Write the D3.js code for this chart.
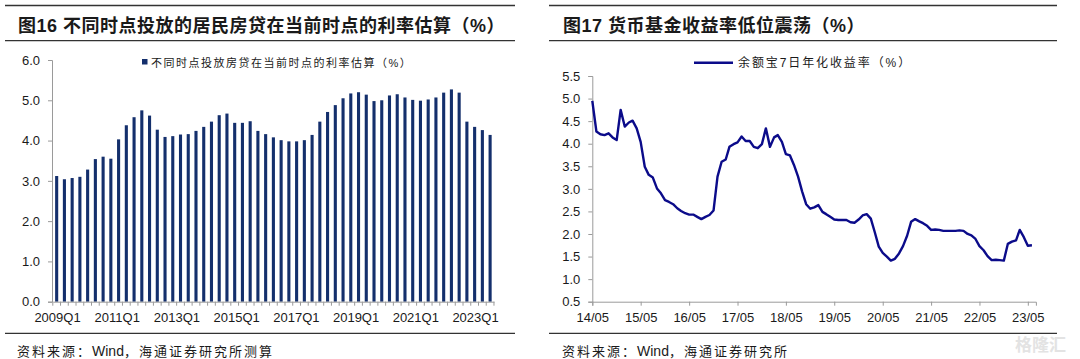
<!DOCTYPE html>
<html><head><meta charset="utf-8">
<script src="https://cdn.jsdelivr.net/npm/d3@7"></script>
<style>
body{margin:0;background:#fff;}
svg{display:block;}
</style></head>
<body>
<svg id="c" width="1080" height="359"></svg>
<script>
// ---------- DATA ----------
const leftTitle = "图16 不同时点投放的居民房贷在当前时点的利率估算（%）";
const rightTitle = "图17 货币基金收益率低位震荡（%）";
const barSeriesName = "不同时点投放房贷在当前时点的利率估算（%）";
const lineSeriesName = "余额宝7日年化收益率（%）";
const quarterYears = d3.range(2009, 2024);
const quarters = quarterYears.flatMap(y => [1,2,3,4].map(q => y + "Q" + q)).slice(0, 57);
const barValues = [3.12,3.04,3.07,3.10,3.28,3.54,3.60,3.55,
  4.03,4.38,4.58,4.75,4.62,4.27,4.09,4.11,
  4.15,4.16,4.24,4.34,4.47,4.63,4.67,4.44,
  4.44,4.48,4.24,4.16,4.08,4.01,3.98,3.98,
  4.01,4.14,4.47,4.71,4.88,5.05,5.17,5.20,
  5.14,4.98,5.00,5.12,5.15,5.07,5.01,4.99,
  5.02,5.07,5.19,5.27,5.19,4.47,4.34,4.26,
  4.14];
const barTickLabels = ["2009Q1","2011Q1","2013Q1","2015Q1","2017Q1","2019Q1","2021Q1","2023Q1"];
const leftYTicks = [0,1,2,3,4,5,6];

const lineStart = "2014-05";
const lineValues = [4.95,4.27,4.21,4.19,4.23,4.14,4.08,4.75,4.38,4.47,4.51,4.34,
  4.04,3.49,3.31,3.25,3.01,2.90,2.75,2.71,2.66,2.57,2.51,2.46,
  2.43,2.43,2.38,2.33,2.38,2.42,2.52,3.27,3.60,3.65,3.93,3.99,
  4.03,4.16,4.06,4.06,3.93,3.90,3.99,4.34,3.93,4.14,4.19,4.04,
  3.77,3.74,3.53,3.27,2.94,2.66,2.56,2.59,2.64,2.49,2.44,2.38,
  2.32,2.31,2.31,2.31,2.26,2.25,2.32,2.41,2.44,2.34,2.05,1.72,
  1.58,1.50,1.41,1.45,1.57,1.73,1.96,2.27,2.33,2.28,2.24,2.18,
  2.09,2.10,2.09,2.07,2.07,2.07,2.07,2.08,2.07,2.00,1.97,1.89,
  1.73,1.64,1.51,1.42,1.43,1.42,1.41,1.78,1.83,1.86,2.09,1.93,
  1.74,1.75];
const lineTickLabels = ["14/05","15/05","16/05","17/05","18/05","19/05","20/05","21/05","22/05","23/05"];
const rightYTicks = [0.5,1.0,1.5,2.0,2.5,3.0,3.5,4.0,4.5,5.0,5.5];
const sourceLeft = ["资料来源：","Wind","，海通证券研究所测算"];
const sourceRight = ["资料来源：","Wind","，海通证券研究所"];

// ---------- STYLE ----------
const FONT = "'Liberation Sans', Arial, 'Noto Sans CJK SC', sans-serif";
const BAR = "#142f6c";
const LINE = "#0b0b8a";
const AXIS = "#9a9a9a";
const TXT = "#1a1a1a";

const svg = d3.select("#c");
svg.append("rect").attr("width",1080).attr("height",359).attr("fill","#fff");

function frame(x0, x1, title, tx, src, sx) {
  const g = svg.append("g");
  [5.5, 40.7, 333.3].forEach(y => g.append("line").attr("x1",x0).attr("x2",x1)
    .attr("y1",y).attr("y2",y).attr("stroke","#333").attr("stroke-width",1.3));
  g.append("text").attr("x",tx).attr("y",31.5).attr("font-family",FONT)
    .attr("font-weight","bold").attr("font-size",18).attr("letter-spacing",0.5)
    .attr("fill",TXT).text(title);
  const t = g.append("text").attr("x",sx).attr("y",356).attr("font-family",FONT)
    .attr("font-size",13).attr("fill",TXT);
  t.append("tspan").attr("letter-spacing",2).text(src[0]);
  t.append("tspan").attr("font-size",14).text(src[1]);
  t.append("tspan").attr("letter-spacing",2).text(src[2]);
}
frame(5, 515, leftTitle, 18, sourceLeft, 17);
frame(549, 1057, rightTitle, 563, sourceRight, 562);

// ---------- LEFT BAR CHART ----------
const yL = d3.scaleLinear().domain([0,6]).range([301.7,60]);
const xL = d3.scaleBand().domain(quarters).range([52.8, 52.8 + 57*7.74]).paddingInner(0.6).paddingOuter(0.3);
const xLab = d3.scalePoint().domain(barTickLabels).range([57, 475]);

const gl = svg.append("g");
gl.selectAll("rect.bar").data(barValues).join("rect").attr("class","bar")
  .attr("x",(d,i)=>xL(quarters[i]))
  .attr("width",xL.bandwidth())
  .attr("y",d=>yL(d)).attr("height",d=>yL(0)-yL(d)).attr("fill",BAR);

// y axis
gl.append("g").attr("transform","translate(52,0)")
  .call(d3.axisLeft(yL).tickValues(leftYTicks).tickFormat(d3.format(".1f")).tickSize(4).tickPadding(8));
// x axis (category ticks)
const xAxL = gl.append("g").attr("transform",`translate(0,${yL(0)})`)
  .call(d3.axisBottom(xL).tickSize(0).tickFormat(""));
xAxL.selectAll(".tick").remove();
xAxL.selectAll(".sep").data(d3.range(58)).join("line").attr("class","sep")
  .attr("x1",i=>52.8 + i*xL.step()).attr("x2",i=>52.8 + i*xL.step())
  .attr("y1",0).attr("y2",4).attr("stroke",AXIS);
const labL = gl.append("g").attr("transform",`translate(0,${yL(0)})`)
  .call(d3.axisBottom(xLab).tickSize(0).tickPadding(11));
labL.select(".domain").remove();

// legend
gl.append("rect").attr("x",142).attr("y",59).attr("width",5.5).attr("height",5.5).attr("fill",BAR);
gl.append("text").attr("x",151).attr("y",66.5).attr("font-family",FONT).attr("font-size",11)
  .attr("letter-spacing",1.5).attr("fill",TXT).text(barSeriesName);

// ---------- RIGHT LINE CHART ----------
const parseM = d3.timeParse("%Y-%m");
const t0 = parseM(lineStart);
const lineDates = d3.timeMonth.range(t0, d3.timeMonth.offset(t0, lineValues.length));
const tickDates = lineTickLabels.map(s => d3.timeParse("%y/%m")(s));
const xR = d3.scaleTime().domain([t0, parseM("2023-07")]).range([592.3, 1035.9]);
const yR = d3.scaleLinear().domain([0.5,5.5]).range([301.7,76]);

const gr = svg.append("g");
gr.append("g").attr("transform","translate(592.3,0)")
  .call(d3.axisLeft(yR).tickValues(rightYTicks).tickFormat(d3.format(".1f")).tickSize(4).tickPadding(8));
gr.append("g").attr("transform",`translate(0,${yR(0.5)})`)
  .call(d3.axisBottom(xR).tickValues(tickDates).tickFormat(d3.timeFormat("%y/%m")).tickSize(4).tickPadding(7));

gr.append("path").datum(lineValues)
  .attr("d", d3.line().x((d,i)=>xR(lineDates[i])).y(d=>yR(d)))
  .attr("fill","none").attr("stroke",LINE).attr("stroke-width",2.4).attr("stroke-linejoin","round");

// legend
gr.append("line").attr("x1",694).attr("x2",733).attr("y1",62.7).attr("y2",62.7)
  .attr("stroke",LINE).attr("stroke-width",2.4);
gr.append("text").attr("x",738).attr("y",67).attr("font-family",FONT).attr("font-size",12)
  .attr("letter-spacing",1.9).attr("fill",TXT).text(lineSeriesName);

// axis styling
svg.selectAll(".domain").attr("stroke",AXIS);
svg.selectAll(".tick line").attr("stroke",AXIS);
svg.selectAll(".tick text").attr("font-family",FONT).attr("font-size",13).attr("fill",TXT);

// watermark
svg.append("text").attr("x",1066).attr("y",351).attr("text-anchor","end")
  .attr("font-family","'Noto Sans CJK SC', sans-serif").attr("font-size",17).attr("font-weight","bold")
  .attr("fill","#e3e3e3").text("格隆汇");
</script>
</body></html>
